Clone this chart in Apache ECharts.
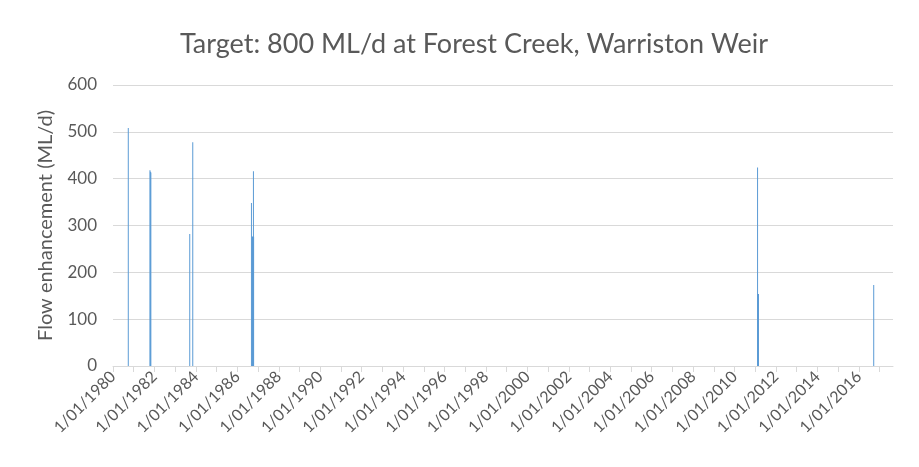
<!DOCTYPE html>
<html>
<head>
<meta charset="utf-8">
<script src="https://cdn.jsdelivr.net/npm/echarts@6/dist/echarts.min.js"></script>
<style>
  html, body { margin: 0; padding: 0; background: #fff; }
  #chart { width: 919px; height: 467px; }
</style>
</head>
<body>
<div id="chart"></div>
<script>
// daily flow enhancement events (ML/d)
var eventDates = [
  "1980-09-27",
  "1981-10-14", "1981-10-22", "1981-10-30",
  "1983-09-15", "1983-11-07",
  "1986-09-07", "1986-09-20", "1986-09-26", "1986-10-02", "1986-10-08", "1986-10-12", "1986-10-15",
  "2011-02-10", "2011-02-14", "2011-02-20", "2011-02-26",
  "2016-09-19"
];
var eventValues = [
  508,
  418, 415, 413,
  282, 478,
  348, 276, 276, 276, 276, 416, 276,
  424, 154, 154, 154,
  173
];
var yTicks = [0, 100, 200, 300, 400, 500, 600];
var firstYear = 1980;
var lastYear = 2017;
var axisEnd = "2017-08-25";

// date string -> decimal year, so the x axis runs in years
function toYear(s) {
  var p = s.split("-").map(Number);
  var start = Date.UTC(p[0], 0, 1);
  var next = Date.UTC(p[0] + 1, 0, 1);
  return p[0] + (Date.UTC(p[0], p[1] - 1, p[2]) - start) / (next - start);
}

var yearTicks = [];
var labelTicks = [];
for (var y = firstYear; y <= lastYear; y++) {
  yearTicks.push(y);
  if ((y - firstYear) % 2 === 0) labelTicks.push(y);
}

var seriesData = eventDates.map(function (d, i) { return [toYear(d), eventValues[i]]; });

var myChart = echarts.init(document.getElementById("chart"));
var font = "Lato, 'Open Sans', sans-serif";
var option = {
  backgroundColor: "#fff",
  animation: false,
  title: {
    text: "Target: 800 ML/d at Forest Creek, Warriston Weir",
    left: 469,
    top: 26,
    textAlign: "center",
    textStyle: { fontFamily: font, fontSize: 27, fontWeight: "normal", color: "#595959" }
  },
  grid: { left: 113, right: 26, top: 85, bottom: 101, containLabel: false },
  xAxis: {
    type: "value",
    min: firstYear,
    max: toYear(axisEnd),
    axisLine: { show: true, onZero: false, lineStyle: { color: "#d9d9d9", width: 1 } },
    axisTick: { show: true, customValues: yearTicks, length: 6, lineStyle: { color: "#d9d9d9" } },
    splitLine: { show: false },
    axisLabel: {
      customValues: labelTicks,
      rotate: 45,
      margin: 8,
      color: "#595959",
      fontFamily: font,
      fontSize: 16,
      formatter: function (v) { return "1/01/" + v; }
    }
  },
  yAxis: {
    type: "value",
    min: yTicks[0],
    max: yTicks[yTicks.length - 1],
    interval: 100,
    name: "Flow enhancement (ML/d)",
    nameLocation: "middle",
    nameRotate: 90,
    nameGap: 57,
    nameTextStyle: { fontFamily: font, fontSize: 20, color: "#595959" },
    axisLine: { show: false },
    axisTick: { show: false },
    splitLine: { lineStyle: { color: "#d9d9d9", width: 1 } },
    axisLabel: { margin: 16, color: "#595959", fontFamily: font, fontSize: 17 }
  },
  series: [
    {
      type: "bar",
      data: seriesData,
      barWidth: 1,
      itemStyle: { color: "#5b9bd5" }
    }
  ]
};
myChart.setOption(option);
</script>
</body>
</html>
